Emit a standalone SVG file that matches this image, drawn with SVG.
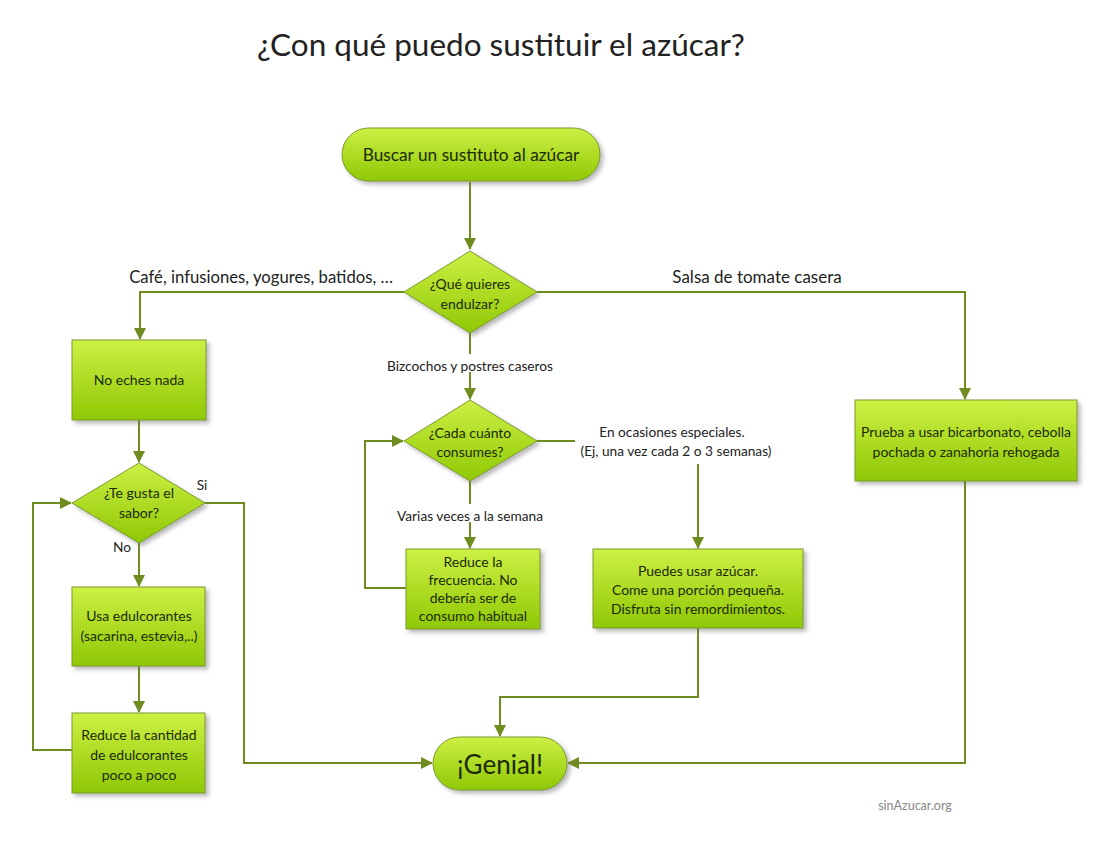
<svg xmlns="http://www.w3.org/2000/svg" width="1105" height="847" viewBox="0 0 1105 847">
<defs>
<linearGradient id="g" x1="0" y1="0" x2="0" y2="1">
<stop offset="0" stop-color="#cdf044"/>
<stop offset="1" stop-color="#8fc805"/>
</linearGradient>
<filter id="sh" x="-10%" y="-10%" width="130%" height="140%">
<feDropShadow dx="3" dy="3" stdDeviation="2" flood-color="#666" flood-opacity="0.45"/>
</filter>
<marker id="ar" markerWidth="12" markerHeight="12" refX="11" refY="6" orient="auto" markerUnits="userSpaceOnUse">
<path d="M0,0 L12,6 L0,12 Z" fill="#6e8c1f"/>
</marker>
</defs>
<style>
.n{fill:url(#g);stroke:#7c9a2c;stroke-width:1;filter:url(#sh)}
.t{font-family:Lato,"Open Sans",sans-serif;fill:#1c2a05;text-anchor:middle;font-size:14px}
.l{font-family:Lato,"Open Sans",sans-serif;fill:#222;text-anchor:middle}
.c{fill:none;stroke:#6e8c1f;stroke-width:2}
</style>
<rect width="1105" height="847" fill="#fff"/>
<text x="501" y="56" class="l" font-size="31.5">¿Con qué puedo sustituir el azúcar?</text>

<g id="connectors">
<path class="c" d="M470,182 V249" marker-end="url(#ar)"/>
<path class="c" d="M404,292 H140 V339" marker-end="url(#ar)"/>
<path class="c" d="M537,292 H965 V399" marker-end="url(#ar)"/>
<path class="c" d="M470,333 V399" marker-end="url(#ar)"/>
<path class="c" d="M139,420 V462" marker-end="url(#ar)"/>
<path class="c" d="M205,503 H244 V763 H432" marker-end="url(#ar)"/>
<path class="c" d="M139,543 V586" marker-end="url(#ar)"/>
<path class="c" d="M139,666 V712" marker-end="url(#ar)"/>
<path class="c" d="M72,750 H33 V503 H71" marker-end="url(#ar)"/>
<path class="c" d="M470,481 V548" marker-end="url(#ar)"/>
<path class="c" d="M406,588 H365 V441 H403" marker-end="url(#ar)"/>
<path class="c" d="M537,441 H698 V548" marker-end="url(#ar)"/>
<path class="c" d="M698,628 V697 H500 V736" marker-end="url(#ar)"/>
<path class="c" d="M965,481 V763 H568" marker-end="url(#ar)"/>
<rect x="380" y="354" width="180" height="18" fill="#fff"/>
<rect x="386" y="504" width="168" height="18" fill="#fff"/>
<rect x="575" y="420" width="205" height="44" fill="#fff"/>
<text x="393" y="283" class="l" font-size="16.7" style="text-anchor:end">Café, infusiones, yogures, batidos, …</text>
<text x="757" y="283" class="l" font-size="17">Salsa de tomate casera</text>
<text x="470" y="371" class="l" font-size="13.7">Bizcochos y postres caseros</text>
<text x="470" y="521" class="l" font-size="13.7">Varias veces a la semana</text>
<text x="672" y="437" class="l" font-size="13.7">En ocasiones especiales.</text>
<text x="676" y="456" class="l" font-size="13.7">(Ej, una vez cada 2 o 3 semanas)</text>
<text x="202" y="490" class="l" font-size="13.7">Si</text>
<text x="122" y="552" class="l" font-size="13.7">No</text>
</g>

<g id="start">
<rect class="n" x="342" y="128" width="258" height="53" rx="26.5"/>
<text x="471" y="161" class="t" style="font-size:17.3px">Buscar un sustituto al azúcar</text>
</g>
<g id="q1">
<polygon class="n" points="470,251 537,292 470,333 404,292"/>
<text x="470" y="289" class="t">¿Qué quieres</text>
<text x="470" y="309" class="t">endulzar?</text>
</g>
<g id="no-eches">
<rect class="n" x="72" y="340" width="134" height="80"/>
<text x="139" y="385" class="t">No eches nada</text>
</g>
<g id="q-sabor">
<polygon class="n" points="139,463 205,503 139,543 72,503"/>
<text x="139" y="498" class="t">¿Te gusta el</text>
<text x="139" y="518" class="t">sabor?</text>
</g>
<g id="usa-edulcorantes">
<rect class="n" x="72" y="587" width="133" height="79"/>
<text x="139" y="621" class="t">Usa edulcorantes</text>
<text x="139" y="641" class="t">(sacarina, estevia,..)</text>
</g>
<g id="reduce-cantidad">
<rect class="n" x="72" y="713" width="133" height="80"/>
<text x="139" y="740" class="t">Reduce la cantidad</text>
<text x="139" y="760" class="t">de edulcorantes</text>
<text x="139" y="780" class="t">poco a poco</text>
</g>
<g id="q-cada">
<polygon class="n" points="470,400 537,441 470,481 404,441"/>
<text x="470" y="438" class="t">¿Cada cuánto</text>
<text x="470" y="457" class="t">consumes?</text>
</g>
<g id="reduce-frecuencia">
<rect class="n" x="406" y="549" width="134" height="80"/>
<text x="473" y="567" class="t">Reduce la</text>
<text x="473" y="585" class="t">frecuencia. No</text>
<text x="473" y="603" class="t">debería ser de</text>
<text x="473" y="621" class="t">consumo habitual</text>
</g>
<g id="puedes">
<rect class="n" x="593" y="549" width="210" height="79"/>
<text x="698" y="576" class="t">Puedes usar azúcar.</text>
<text x="698" y="595" class="t">Come una porción pequeña.</text>
<text x="698" y="614" class="t">Disfruta sin remordimientos.</text>
</g>
<g id="prueba">
<rect class="n" x="855" y="400" width="222" height="81"/>
<text x="966" y="437" class="t">Prueba a usar bicarbonato, cebolla</text>
<text x="966" y="457" class="t">pochada o  zanahoria rehogada</text>
</g>
<g id="genial">
<rect class="n" x="433" y="737" width="134" height="53" rx="26.5"/>
<text x="500" y="774" class="t" style="font-size:26px">¡Genial!</text>
</g>
<text x="915" y="810" class="l" font-size="12.5" style="fill:#888">sinAzucar.org</text>
</svg>
